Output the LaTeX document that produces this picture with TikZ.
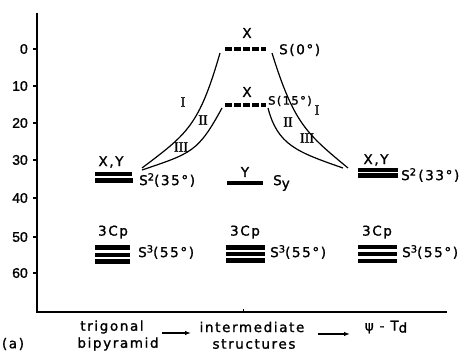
\documentclass[tikz,border=0pt]{standalone}
\usepackage{fontspec}
\newfontfamily\lbl[LetterSpace=12,FakeBold=1.3]{DejaVu Sans}
\newfontfamily\tkf[FakeBold=1.3]{Liberation Sans}
\newfontfamily\rmn[FakeBold=1.6]{Liberation Serif}
\usetikzlibrary{arrows.meta}
\newcommand\upx[1]{\raisebox{4.5pt}{\fontsize{10}{10}\selectfont #1}}
\tikzset{
  lv/.style={line width=4.2pt},
  dlv/.style={line width=4.3pt, dash pattern=on 7pt off 2pt},
  txt/.style={font=\lbl\fontsize{13.5}{15}\selectfont, inner sep=0pt},
  rn/.style={font=\rmn\fontsize{14}{16}\selectfont, inner sep=0pt},
  tk/.style={font=\tkf\fontsize{14}{16}\selectfont, inner sep=0pt, anchor=east},
  crv/.style={line width=1.2pt},
  ax/.style={line width=1.4pt},
  flow/.style={line width=1.2pt, -{Latex[length=6pt,width=4.5pt]}}
}
\begin{document}
\begin{tikzpicture}[x=1pt,y=-1pt]
\useasboundingbox (0,0) rectangle (470,353);

% axes
\coordinate (top) at (37,13);
\coordinate (orig) at (37,312);
\coordinate (right) at (447,312);
\draw[ax] (top) -- (orig) -- (right);
\draw[line width=1pt] (243,312) -- (243,309);

% energy scale
\foreach \v/\yy in {0/49,10/86,20/123,30/160,40/198,50/237,60/273}{
  \draw[ax] (33,\yy) -- (37,\yy);
  \node[tk] at (28,\yy) {\v};
}

% trigonal bipyramid levels
\draw[lv] (95,174) -- (132,174);
\draw[lv] (95,180.5) -- (133,180.5);
\node[txt] (xyL) at (111,162) {X,Y};
\node[txt, anchor=west] (s2L) at (139,180) {S\upx{2}(35°)};
\draw[lv] (95,247.5) -- (130,247.5);
\draw[lv] (95,255) -- (130,255);
\draw[lv] (95,261.5) -- (130,261.5);
\node[txt] (cpL) at (113,232) {3Cp};
\node[txt, anchor=west] (s3L) at (138,252) {S\upx{3}(55°)};

% intermediate structures
\draw[dlv] (225,49) -- (266,49);
\node[txt] (xA) at (247,33) {X};
\node[txt, anchor=west] (s0) at (279,50) {S(0°)};
\draw[dlv] (225,105) -- (266,105);
\node[txt] (xB) at (247,92) {X};
\node[txt, anchor=west, font=\lbl\fontsize{11.5}{13}\selectfont] (s15) at (268,101) {S(15°)};
\draw[line width=3.2pt] (227,183) -- (263,183);
\node[txt] (yM) at (245,172) {Y};
\node[txt, anchor=west] (sy) at (273,183) {S\raisebox{-3pt}{y}};
\draw[lv] (226,247.5) -- (265,247.5);
\draw[lv] (226,254) -- (265,254);
\draw[lv] (226,260.5) -- (265,260.5);
\node[txt] (cpM) at (245,232) {3Cp};
\node[txt, anchor=west] (s3M) at (270,252) {S\upx{3}(55°)};

% psi-Td levels
\draw[line width=4.4pt] (358,170) -- (398,170);
\draw[line width=4.4pt] (358,175.6) -- (398,175.6);
\node[txt] (xyR) at (376,160) {X,Y};
\node[txt, anchor=west] (s2R) at (401,175) {S\upx{2}\,(33°)};
\draw[lv] (358,247) -- (397,247);
\draw[lv] (358,254) -- (397,254);
\draw[lv] (358,261) -- (397,261);
\node[txt] (cpR) at (377,232) {3Cp};
\node[txt, anchor=west] (s3R) at (402,252) {S\upx{3}(55°)};

% correlation curves
\coordinate (a0) at (220,53);
\coordinate (a15) at (222,108);
\coordinate (aL) at (142,168);
\coordinate (aL2) at (142,170);
\coordinate (b0) at (272,53);
\coordinate (b15) at (268,108);
\coordinate (bR) at (348,168);
\coordinate (bR2) at (343,168);
\draw[crv] (a0) .. controls (199,126) and (187,134) .. (aL);
\draw[crv] (a15) .. controls (198,152) and (192,153) .. (aL2);
\draw[crv] (b0) .. controls (294,124) and (307,134) .. (bR);
\draw[crv] (b15) .. controls (277.6,145) and (297,152) .. (bR2);

\node[rn] (l1) at (183,102) {I};
\node[rn] (l2) at (203,120) {II};
\node[rn] (l3) at (181,147) {III};
\node[rn] (r1) at (317,110) {I};
\node[rn] (r2) at (288,122) {II};
\node[rn] (r3) at (307,138) {III};

% bottom captions
\node[txt] (tb1) at (112,327) {trigonal};
\node[txt] (tb2) at (118,344) {bipyramid};
\node[txt] (pa) at (13,344) {(a)};
\node[txt] (im1) at (252,327) {intermediate};
\node[txt] (im2) at (254,344) {structures};
\node[txt] (td) at (386,327) {ψ - T\raisebox{-2pt}{d}};
\coordinate (f1a) at (162,333);
\coordinate (f1b) at (191,333);
\coordinate (f2a) at (318,334);
\coordinate (f2b) at (350,334);
\draw[flow] (f1a) -- (f1b);
\draw[flow] (f2a) -- (f2b);
\end{tikzpicture}
\end{document}
